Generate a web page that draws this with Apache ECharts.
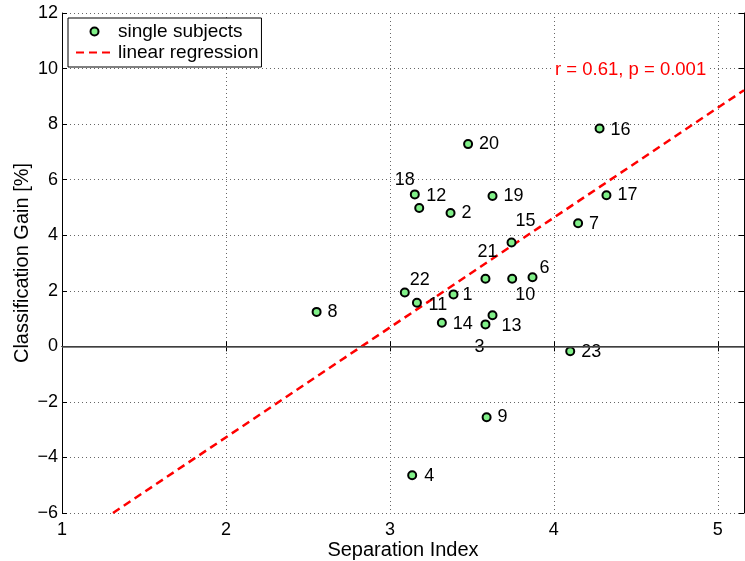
<!DOCTYPE html>
<html>
<head>
<meta charset="utf-8">
<title>Classification gain vs separation index</title>
<script src="https://cdn.jsdelivr.net/npm/echarts@6/dist/echarts.min.js"></script>
<style>
    html, body { margin: 0; padding: 0; background: #fff; }
    #chart { width: 745px; height: 561px; }
</style>
</head>
<body>
<div id="chart"></div>
<script>
// subject numbers and their values (subject 5 is not in the plot)
const subjects = [1, 2, 3, 4, 6, 7, 8, 9, 10, 11, 12, 13, 14, 15, 16, 17, 18, 19, 20, 21, 22, 23];
const separation = [3.388, 3.37, 3.583, 3.136, 3.870, 4.148, 2.553, 3.59, 3.746, 3.165, 3.179, 3.626, 3.317, 3.742, 4.279, 4.321, 3.152, 3.626, 3.477, 3.583, 3.091, 4.10];
const gain = [1.87, 4.80, 0.79, -4.64, 2.49, 4.43, 1.24, -2.55, 2.43, 1.57, 4.98, 1.12, 0.85, 3.74, 7.84, 5.44, 5.47, 5.41, 7.28, 2.43, 1.94, -0.18];

// end points of the fitted line
const regX = [1.311, 5.16];
const regY = [-6, 9.22];

const xTicks = [1, 2, 3, 4, 5];
const yTicks = [-6, -4, -2, 0, 2, 4, 6, 8, 10, 12];
const statsText = 'r = 0.61, p = 0.001';

// where each number sits relative to its marker (px)
const labelOffsets = {
    1: [14, 1], 2: [16, 0], 3: [-6, 23], 4: [17, 1], 6: [12, -9], 7: [16, 1],
    8: [16, 0], 9: [16, 0], 10: [13, 16], 11: [21, 2], 12: [17, -12], 13: [19, 11],
    14: [21, 1], 15: [14, -21], 16: [21, 1], 17: [21, 0], 18: [-10, -14], 19: [21, 0],
    20: [21, 0], 21: [2, -27], 22: [15, -12], 23: [21, 1]
};

const fontFamily = '"Liberation Sans", Arial, Helvetica, sans-serif';
const colorGrid = '#666';
const colorRed = '#ff0000';

const points = subjects.map((s, i) => ({
    value: [separation[i], gain[i]],
    label: { offset: labelOffsets[s] || [16, 0] },
    name: String(s)
}));

// matlab writes a real minus sign
const tickFormat = v => String(v).replace('-', '\u2212');

const chart = echarts.init(document.getElementById('chart'), null, { renderer: 'canvas' });

const axisCommon = {
    axisLine: { show: true, lineStyle: { color: '#000', width: 1 } },
    axisTick: { show: true, inside: true, length: 5, lineStyle: { color: '#000' } }
};

chart.setOption({
    animation: false,
    backgroundColor: '#fff',
    textStyle: { fontFamily: fontFamily },
    grid: { left: 62, right: 1, top: 13, bottom: 48, outerBoundsMode: 'none', containLabel: false },
    legend: {
        left: 68,
        top: 18,
        orient: 'vertical',
        data: [
            { name: 'single subjects' },
            { name: 'linear regression', itemStyle: { opacity: 0 } }
        ],
        backgroundColor: '#fff',
        borderColor: '#000',
        borderWidth: 1,
        borderRadius: 0,
        padding: [4, 3, 5, 7],
        itemWidth: 37,
        itemHeight: 8,
        itemGap: 2,
        textStyle: { fontSize: 19, color: '#000', fontFamily: fontFamily }
    },
    xAxis: [
        Object.assign({
            type: 'value',
            min: xTicks[0],
            max: 5.16,
            interval: 1,
            position: 'bottom',
            name: 'Separation Index',
            nameLocation: 'middle',
            nameGap: 27,
            nameMoveOverlap: false,
            nameTextStyle: { fontSize: 20, color: '#000' },
            axisLabel: { fontSize: 18, color: '#000', margin: 8, showMaxLabel: false },
            splitLine: { show: true, lineStyle: { color: colorGrid, type: [1, 3], width: 1 } }
        }, axisCommon),
        Object.assign({
            type: 'value',
            min: xTicks[0],
            max: 5.16,
            interval: 1,
            position: 'top',
            axisLabel: { show: false },
            splitLine: { show: false }
        }, axisCommon)
    ],
    yAxis: [
        Object.assign({
            type: 'value',
            min: yTicks[0],
            max: yTicks[yTicks.length - 1],
            interval: 2,
            position: 'left',
            name: 'Classification Gain [%]',
            nameLocation: 'middle',
            nameGap: 30,
            nameMoveOverlap: false,
            nameTextStyle: { fontSize: 20, color: '#000' },
            axisLabel: { fontSize: 18, color: '#000', margin: 4, formatter: tickFormat },
            splitLine: { show: true, lineStyle: { color: colorGrid, type: [1, 3], width: 1 } }
        }, axisCommon),
        Object.assign({
            type: 'value',
            min: yTicks[0],
            max: yTicks[yTicks.length - 1],
            interval: 2,
            position: 'right',
            axisLabel: { show: false },
            splitLine: { show: false }
        }, axisCommon)
    ],
    graphic: [
        {
            type: 'text',
            left: 554,
            top: 59,
            z: 10,
            style: {
                text: statsText, fill: colorRed, fontSize: 18.5, fontFamily: fontFamily,
                backgroundColor: '#fff', padding: [1, 1]
            }
        }
    ],
    series: [
        {
            name: 'linear regression',
            type: 'line',
            data: regX.map((x, i) => [x, regY[i]]),
            showSymbol: false,
            symbol: 'none',
            lineStyle: { color: colorRed, width: 2.5, type: [8, 5] },
            itemStyle: { color: colorRed },
            z: 2,
            markLine: {
                silent: true,
                symbol: 'none',
                label: { show: false },
                lineStyle: { color: '#555', width: 1.5, type: 'solid' },
                data: [{ yAxis: 0 }]
            }
        },
        {
            name: 'single subjects',
            type: 'scatter',
            data: points,
            symbol: 'circle',
            symbolSize: 8,
            itemStyle: { color: '#80f088', borderColor: '#000', borderWidth: 2, opacity: 1 },
            label: {
                show: true,
                position: 'inside',
                formatter: p => p.name,
                fontSize: 18,
                color: '#000',
                opacity: 1,
                textBorderWidth: 0,
                textBorderColor: 'transparent',
                align: 'center',
                verticalAlign: 'middle'
            },
            z: 3
        }
    ]
});
</script>
</body>
</html>
